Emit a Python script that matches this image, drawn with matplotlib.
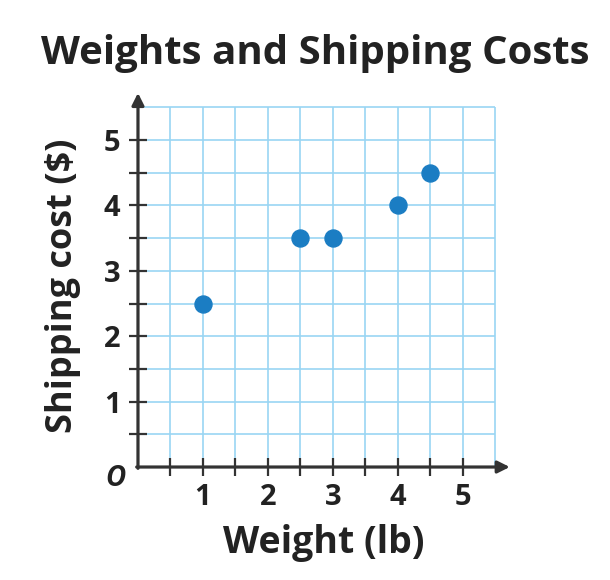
import numpy as np
import matplotlib
matplotlib.use('Agg')
import matplotlib.pyplot as plt

plt.rcParams['font.family'] = ['Open Sans', 'DejaVu Sans']

# data
weight = [1, 2.5, 3, 4, 4.5]          # lb
cost = [2.5, 3.5, 3.5, 4, 4.5]        # $

axis_col = '#333333'
grid_col = '#9ad5f3'
dot_col = '#1b7dc3'
txt_col = '#222222'

fig = plt.figure(figsize=(6.1, 5.8), dpi=100)
ax = fig.add_axes([0.2262, 0.1948, 0.6095, 0.645])
ax.set_xlim(0, 5.72)
ax.set_ylim(0, 5.72)

# grid every half unit, only up to 5.5
g = np.arange(0.5, 5.51, 0.5)
ax.vlines(g, 0, 5.5, color=grid_col, lw=1.2, zorder=1)
ax.hlines(g, 0, 5.5, color=grid_col, lw=1.2, zorder=1)

for s in ax.spines.values():
    s.set_visible(False)

# axes with arrows
arr = dict(arrowstyle='-|>', lw=2.3, color=axis_col, mutation_scale=18,
           shrinkA=0, shrinkB=0)
ax.annotate('', xy=(5.72, 0), xytext=(-0.02, 0), arrowprops=arr,
            annotation_clip=False, zorder=3)
ax.annotate('', xy=(0, 5.72), xytext=(0, -0.02), arrowprops=arr,
            annotation_clip=False, zorder=3)

ticks = np.arange(0.5, 5.01, 0.5)
ax.set_xticks(ticks)
ax.set_yticks(ticks)
ax.set_xticklabels(['' if t % 1 else str(int(t)) for t in ticks])
ax.set_yticklabels(['' if t % 1 else str(int(t)) for t in ticks])
ax.tick_params(direction='inout', length=13, width=1.6, color=axis_col,
               labelsize=21, labelcolor=txt_col)
ax.tick_params(axis='x', pad=5)
ax.tick_params(axis='y', pad=6)
for lab in ax.get_xticklabels() + ax.get_yticklabels():
    lab.set_fontweight('bold')

ax.scatter(weight, cost, s=150, color=dot_col, zorder=4, clip_on=False)

ax.text(-0.35, -0.17, 'O', fontsize=20, fontweight='bold', style='italic',
        color=txt_col, ha='center', va='center')

ax.set_xlabel('Weight (lb)', fontsize=27, fontweight='bold', color=txt_col,
              labelpad=9)
ax.set_ylabel('Shipping cost ($)', fontsize=26, fontweight='bold',
              color=txt_col)
ax.yaxis.set_label_coords(-0.152, 0.485)
fig.text(0.516, 0.907, 'Weights and Shipping Costs', fontsize=29,
         fontweight='bold', color=txt_col, ha='center', va='center')

fig.savefig('out.png', dpi=100, facecolor='white')
